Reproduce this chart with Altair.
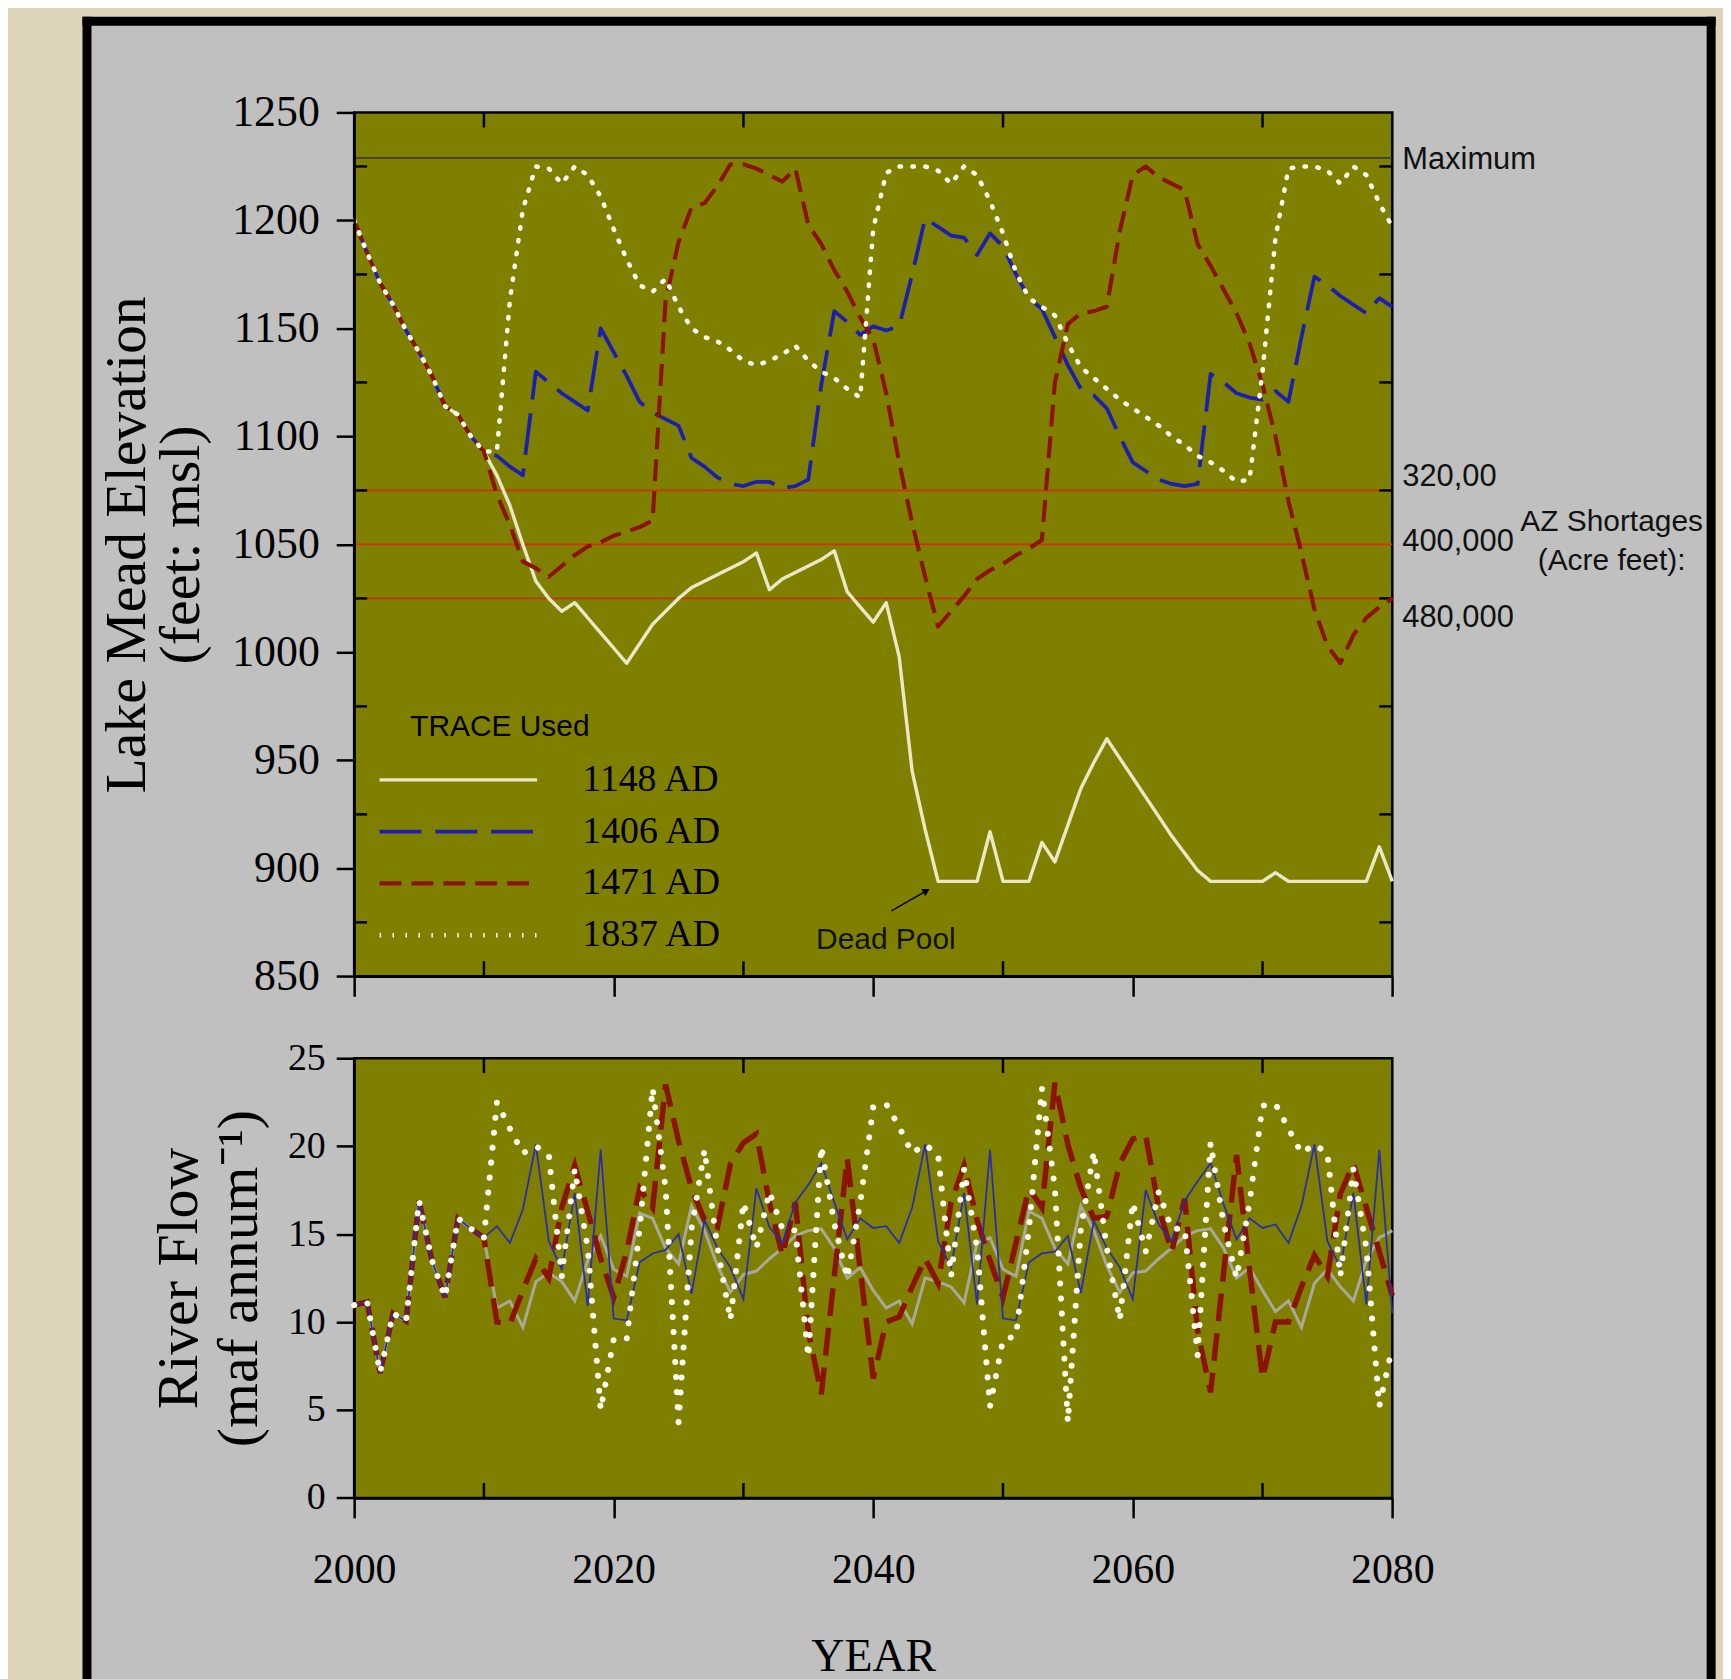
import altair as alt
import pandas as pd

SERIF = "Liberation Serif"
SANS = "Liberation Sans"
OLIVE = "#808000"
PANEL = "#c0c0c0"
BEIGE = "#ddd3b8"

# ---------------- data ----------------
years = list(range(2000, 2081))
traces = ["1148 AD", "1406 AD", "1471 AD", "1837 AD"]

# Lake Mead elevation (feet msl)
elev_common = [1200, 1185, 1171, 1161, 1149, 1139, 1128, 1114, 1110, 1100, 1093]
elev_1148 = elev_common + [
    1082, 1068, 1050, 1033, 1025, 1019, 1023, 1016, 1009, 1002,
    995, 1004, 1013, 1019, 1025, 1030, 1033, 1036, 1039, 1042,
    1046, 1029, 1034, 1037, 1040, 1043, 1047, 1028, 1021, 1014,
    1023, 998, 945, 918, 894, 894, 894, 894, 917, 894,
    894, 894, 912, 903, 920, 937, 949, 960, 951, 942,
    933, 924, 915, 907, 899, 894, 894, 894, 894, 894,
    898, 894, 894, 894, 894, 894, 894, 894, 910, 894]
elev_1406 = elev_common + [
    1091, 1086, 1082, 1130, 1125, 1120, 1116, 1112, 1150, 1139,
    1128, 1116, 1111, 1108, 1105, 1090, 1086, 1081, 1078, 1077,
    1079, 1079, 1076, 1077, 1080, 1124, 1158, 1153, 1147, 1151,
    1149, 1151, 1175, 1201, 1197, 1193, 1192, 1184, 1194, 1188,
    1175, 1164, 1159, 1146, 1133, 1122, 1119, 1113, 1100, 1088,
    1084, 1080, 1078, 1077, 1078, 1129, 1125, 1120, 1118, 1117,
    1121, 1116, 1146, 1174, 1170, 1165, 1161, 1157, 1164, 1160]
elev_1471 = elev_common + [
    1073, 1059, 1042, 1039, 1035, 1040, 1045, 1049, 1051, 1054,
    1056, 1058, 1061, 1163, 1190, 1206, 1208, 1216, 1226, 1226,
    1224, 1221, 1218, 1224, 1198, 1189, 1177, 1167, 1155, 1145,
    1120, 1088, 1060, 1035, 1012, 1019, 1026, 1034, 1038, 1041,
    1045, 1048, 1052, 1125, 1152, 1157, 1158, 1160, 1195, 1221,
    1225, 1220, 1217, 1214, 1189, 1179, 1168, 1157, 1143, 1124,
    1100, 1070, 1046, 1020, 1003, 995, 1008, 1016, 1021, 1025]
elev_1837 = elev_common + [
    1093, 1163, 1205, 1225, 1224, 1217, 1225, 1221, 1211, 1196,
    1182, 1170, 1167, 1173, 1160, 1150, 1146, 1144, 1140, 1135,
    1133, 1135, 1138, 1142, 1135, 1130, 1127, 1122, 1118, 1196,
    1222, 1225, 1225, 1225, 1223, 1217, 1225, 1221, 1209, 1194,
    1176, 1164, 1160, 1156, 1143, 1132, 1127, 1122, 1117, 1113,
    1109, 1105, 1100, 1096, 1091, 1088, 1084, 1079, 1080, 1130,
    1192, 1224, 1225, 1225, 1223, 1217, 1225, 1221, 1208, 1197]

# River flow (maf per year)
flow_common = [10.96, 11.15, 7.1, 10.5, 10.05, 16.9, 13.5, 11.4, 15.9, 15.3, 14.8]
flow_1148 = flow_common + [
    10.8, 11.2, 9.7, 12.3, 12.8, 12.3, 11.2, 13.5, 14.9, 13.0,
    12.6, 16.2, 15.9, 14.2, 13.3, 16.6, 15.2, 13.2, 11.7, 12.7,
    12.9, 13.6, 14.2, 14.9, 15.2, 15.3, 14.2, 12.5, 13.1, 11.8,
    10.8, 11.2, 9.9, 12.5, 12.3, 12.0, 11.1, 14.5, 14.8, 13.0,
    12.6, 16.3, 15.9, 14.2, 13.3, 16.6, 15.2, 13.2, 11.7, 12.8,
    12.9, 13.6, 14.2, 14.9, 15.2, 15.3, 14.2, 12.5, 13.1, 11.8,
    10.6, 11.2, 9.7, 12.2, 13.0, 12.0, 11.2, 13.5, 14.8, 15.2]
flow_1406 = flow_common + [
    15.45, 14.5, 16.4, 20.1, 14.6, 13.0, 17.35, 10.9, 19.8, 10.2,
    10.1, 13.4, 13.9, 14.1, 15.0, 11.6, 15.8, 14.2, 13.1, 11.3,
    17.6, 15.4, 14.5, 16.8, 17.8, 19.05, 16.8, 14.7, 15.9, 15.35,
    15.45, 14.5, 16.5, 20.1, 14.6, 13.1, 17.35, 11.0, 19.8, 10.2,
    10.1, 13.4, 13.9, 14.0, 14.9, 11.65, 15.75, 14.2, 13.1, 11.3,
    17.5, 15.55, 14.6, 16.9, 18.0, 19.05, 16.7, 14.7, 15.9, 15.35,
    15.55, 14.5, 16.6, 20.1, 14.6, 13.1, 17.35, 11.0, 19.8, 10.5]
flow_1471 = flow_common + [
    10.0, 9.9, 11.8, 13.6, 12.5, 16.5, 18.9, 16.3, 13.6, 11.4,
    14.0, 17.6, 16.5, 23.5, 20.3, 17.6, 15.8, 15.4, 19.0, 20.2,
    20.7, 16.8, 13.8, 16.8, 9.5, 5.9, 12.6, 19.3, 13.0, 6.8,
    10.0, 10.3, 12.0, 13.6, 12.2, 16.8, 18.9, 15.8, 13.5, 11.4,
    14.5, 17.6, 16.5, 23.6, 20.1, 17.6, 15.9, 16.0, 19.0, 20.4,
    20.6, 16.5, 14.0, 17.0, 9.5, 6.0, 12.8, 19.5, 13.0, 6.8,
    10.0, 10.0, 12.0, 13.8, 12.6, 17.3, 19.0, 16.5, 14.0, 11.5]
flow_1837 = flow_common + [
    22.5, 21.0, 19.6, 20.0, 19.5, 12.6, 18.7, 14.2, 5.0, 9.0,
    9.0, 15.3, 23.3, 17.6, 4.3, 15.3, 19.8, 14.2, 10.1, 16.8,
    14.2, 17.4, 15.3, 15.2, 8.0, 20.0, 15.6, 12.5, 16.8, 22.2,
    22.4, 21.1, 19.6, 20.1, 19.5, 12.6, 18.7, 14.2, 5.2, 9.0,
    9.2, 15.3, 23.3, 17.6, 4.3, 15.3, 19.7, 14.2, 10.1, 16.8,
    14.0, 17.4, 15.3, 15.3, 8.1, 20.2, 15.6, 12.5, 16.8, 22.3,
    22.4, 21.0, 19.6, 20.1, 19.6, 12.6, 18.7, 14.2, 5.2, 8.6]

year_ticks = [2000, 2020, 2040, 2060, 2080]
year_minor = [2010, 2030, 2050, 2070]
elev_ticks = [850, 900, 950, 1000, 1050, 1100, 1150, 1200, 1250]
elev_minor = [875, 925, 975, 1025, 1075, 1125, 1175, 1225]
flow_ticks = [0, 5, 10, 15, 20, 25]

maximum_level = 1229
shortage_levels = [1075, 1050, 1025]
label_text = ["Maximum", "320,00", "400,000", "480,000"]
label_y = [1228, 1081, 1051, 1016]
az_label = "AZ Shortages\n(Acre feet):"
az_pos = (2096.9, 1060.4)
dead_pool_pos = (2035.6, 867)
arrow_from = (2041.4, 880.3)
arrow_to = (2044.1, 889.6)

# ---------------- tables ----------------
elev_df = pd.DataFrame({
    "year": years * 4,
    "trace": [t for t in traces for _ in years],
    "elev": elev_1148 + elev_1406 + elev_1471 + elev_1837,
})
flow_df = pd.DataFrame({
    "year": years * 4,
    "trace": [t for t in traces for _ in years],
    "flow": flow_1148 + flow_1406 + flow_1471 + flow_1837,
})

W = 1042.2
H_TOP = 867.3
H_BOT = 441.4
GAP = 81.5

xs = alt.Scale(domain=[2000, 2080], nice=False, zero=False)
ys_top = alt.Scale(domain=[850, 1250], nice=False, zero=False)
ys_bot = alt.Scale(domain=[0, 25], nice=False, zero=False)

common_axis = dict(domainColor="black", domainWidth=2.5, tickColor="black",
                   tickWidth=2.5, grid=False, labelColor="black",
                   labelFont=SERIF, titleFont=SERIF, titleColor="black",
                   titleFontWeight="normal", labelFlush=False)

ax_x_top = alt.Axis(values=year_ticks, labels=False, tickSize=20, title=None,
                    zindex=1, **common_axis)
ax_y_top = alt.Axis(values=elev_ticks, format="d", labelFontSize=44,
                    labelPadding=17, tickSize=18, zindex=1,
                    title=["Lake Mead Elevation", "(feet: msl)"],
                    titleFontSize=58, titleAngle=270, titleAlign="center",
                    titleBaseline="middle", titleLineHeight=54,
                    titleX=-227, titleY=H_TOP / 2, **common_axis)
ax_x_bot = alt.Axis(values=year_ticks, format="d", labelFontSize=42,
                    labelPadding=32, tickSize=20, title="YEAR",
                    titleFontSize=46, titleAlign="center",
                    titleBaseline="middle", titleX=W / 2, titleY=159.3,
                    **common_axis)
ax_y_bot = alt.Axis(values=flow_ticks, format="d", labelFontSize=38,
                    labelPadding=11, tickSize=18,
                    title=["River Flow", "(maf annum\u207b\u00b9)"],
                    titleFontSize=58, titleAngle=270, titleAlign="center",
                    titleBaseline="middle", titleLineHeight=60,
                    titleX=-175, titleY=H_BOT / 2, **common_axis)


def XT(f):
    return alt.X(f, type="quantitative", scale=xs, axis=ax_x_top)


def YT(f):
    return alt.Y(f, type="quantitative", scale=ys_top, axis=ax_y_top)


def XB(f):
    return alt.X(f, type="quantitative", scale=xs, axis=ax_x_bot)


def YB(f):
    return alt.Y(f, type="quantitative", scale=ys_bot, axis=ax_y_bot)


# ---------------- top panel ----------------
one = pd.DataFrame({"k": [0]})
panel = alt.Chart(one).mark_rect(fill=PANEL).encode(
    x=alt.value(-268), x2=alt.value(1362), y=alt.value(-92), y2=alt.value(1600))
edge_left = alt.Chart(one).mark_rule(color="black", strokeWidth=9, strokeCap="square").encode(
    x=alt.value(-268.2), y=alt.value(-91.5), y2=alt.value(1600))
edge_right = alt.Chart(one).mark_rule(color="black", strokeWidth=9, strokeCap="square").encode(
    x=alt.value(1362.3), y=alt.value(-91.5), y2=alt.value(1600))
edge_top = alt.Chart(one).mark_rule(color="black", strokeWidth=9, strokeCap="square").encode(
    x=alt.value(-268.2), x2=alt.value(1362.3), y=alt.value(-91.5))

plot_bg = alt.Chart(pd.DataFrame({"x0": [2000], "x1": [2080], "y0": [850], "y1": [1250]})).mark_rect(
    fill=OLIVE, stroke="black", strokeWidth=2.5).encode(
    x=XT("x0"), x2="x1", y=YT("y0"), y2="y1")

max_rule = alt.Chart(pd.DataFrame({"level": [maximum_level]})).mark_rule(
    color="#3c3c3c", strokeWidth=1.8).encode(y=YT("level"))
short_rules = alt.Chart(pd.DataFrame({"level": shortage_levels})).mark_rule(
    color="#cc3300", strokeWidth=1.6).encode(y=YT("level"))

TICK_FT = 7
tick_v = pd.DataFrame({
    "year": year_minor * 2,
    "a": [1250] * len(year_minor) + [850] * len(year_minor),
    "b": [1250 - TICK_FT] * len(year_minor) + [850 + TICK_FT] * len(year_minor),
})
ticks_top_v = alt.Chart(tick_v).mark_rule(color="black", strokeWidth=2.5).encode(
    x=XT("year"), y=YT("a"), y2="b")
tick_h = pd.DataFrame({
    "level": elev_minor * 2,
    "a": [2000] * len(elev_minor) + [2080] * len(elev_minor),
    "b": [2001] * len(elev_minor) + [2079] * len(elev_minor),
})
ticks_top_h = alt.Chart(tick_h).mark_rule(color="black", strokeWidth=2.5).encode(
    y=YT("level"), x=XT("a"), x2="b")

legend = alt.Legend(
    title="TRACE Used", orient="none", legendX=56.3, legendY=602,
    symbolType="M-5,0L5,0", symbolSize=1000, symbolOffset=29.3,
    labelFont=SERIF, labelFontSize=38, labelColor="black", labelOffset=105.4,
    labelLimit=300, titleFont=SANS, titleFontSize=30, titleLimit=400,
    titleFontWeight="normal", titleColor="black", titlePadding=19,
    rowPadding=14, padding=0, zindex=2, direction="vertical", titleAnchor="start")

base = alt.Chart(elev_df).encode(
    x=XT("year"), y=YT("elev"),
    color=alt.Color("trace:N", scale=alt.Scale(
        domain=traces, range=["#ebe8c8", "#1c1eb0", "#8b1400", "#fffff4"]), legend=legend),
    strokeDash=alt.StrokeDash("trace:N", scale=alt.Scale(
        domain=traces, range=[[1, 0], [42, 14], [22, 10], [1.5, 11.5]]), legend=legend),
    strokeWidth=alt.StrokeWidth("trace:N", scale=alt.Scale(
        domain=traces, range=[3.4, 4.5, 3.8, 6]), legend=legend),
)
lines_dash = base.transform_filter(alt.datum.trace != "1837 AD").mark_line(strokeJoin="round")
lines_dot = base.transform_filter(alt.datum.trace == "1837 AD").mark_line(strokeCap="round")

ann = pd.DataFrame({"x": [2080] * len(label_text), "y": label_y, "label": label_text})
ann_text = alt.Chart(ann).mark_text(align="left", baseline="middle", dx=10, font=SANS,
                                    fontSize=31, color="#111111").encode(
    x=XT("x"), y=YT("y"), text="label:N")
az_text = alt.Chart(pd.DataFrame({"x": [az_pos[0]], "y": [az_pos[1]], "label": [az_label]})).mark_text(
    align="center", baseline="middle", lineBreak="\n", lineHeight=39, font=SANS,
    fontSize=30, color="#111111").encode(x=XT("x"), y=YT("y"), text="label:N")
dead_text = alt.Chart(pd.DataFrame({"x": [dead_pool_pos[0]], "y": [dead_pool_pos[1]], "label": ["Dead Pool"]})).mark_text(
    align="left", baseline="middle", font=SANS, fontSize=30, color="#111111").encode(
    x=XT("x"), y=YT("y"), text="label:N")
arrow_df = pd.DataFrame({"x": [arrow_from[0]], "y": [arrow_from[1]],
                         "x2": [arrow_to[0]], "y2": [arrow_to[1]]})
arrow_line = alt.Chart(arrow_df).mark_rule(color="black", strokeWidth=1.6).encode(
    x=XT("x"), y=YT("y"), x2="x2", y2="y2")
arrow_head = alt.Chart(arrow_df).mark_point(shape="triangle-up", angle=60, size=70,
                                            filled=True, color="black", opacity=1).encode(
    x=XT("x2"), y=YT("y2"))

top = alt.layer(
    panel, edge_left, edge_right, edge_top, plot_bg, max_rule, short_rules,
    ticks_top_v, ticks_top_h, lines_dash, lines_dot, ann_text, az_text,
    dead_text, arrow_line, arrow_head,
).properties(width=W, height=H_TOP)

# ---------------- bottom panel ----------------
TICK_FLOW = 0.85
tick_bv = pd.DataFrame({
    "year": year_minor * 2,
    "a": [25] * len(year_minor) + [0] * len(year_minor),
    "b": [25 - TICK_FLOW] * len(year_minor) + [TICK_FLOW] * len(year_minor),
})
ticks_bot = alt.Chart(tick_bv).mark_rule(color="black", strokeWidth=2.5).encode(
    x=XB("year"), y=YB("a"), y2="b")

fb = alt.Chart(flow_df).encode(x=XB("year"), y=YB("flow"))
b_1148 = fb.transform_filter(alt.datum.trace == "1148 AD").mark_line(color="#a9a99b", strokeWidth=3)
b_1471 = fb.transform_filter(alt.datum.trace == "1471 AD").mark_line(
    color="#8b1400", strokeWidth=5.5, strokeDash=[28, 12])
b_1406 = fb.transform_filter(alt.datum.trace == "1406 AD").mark_line(color="#2a2ea8", strokeWidth=1.8)
b_1837 = fb.transform_filter(alt.datum.trace == "1837 AD").mark_line(
    color="#fffff4", strokeWidth=6, strokeDash=[0.1, 15], strokeCap="round")

bottom = alt.layer(ticks_bot, b_1148, b_1471, b_1406, b_1837).properties(width=W, height=H_BOT)

chart = alt.vconcat(top, bottom, spacing=GAP, bounds="flush").properties(
    background=BEIGE,
    padding={"left": 71.5, "top": 1.5, "right": 4, "bottom": 0},
).configure_view(fill=OLIVE, stroke="black", strokeWidth=2.5)

chart.save("out.html", embed_options={"renderer": "svg", "actions": False})
